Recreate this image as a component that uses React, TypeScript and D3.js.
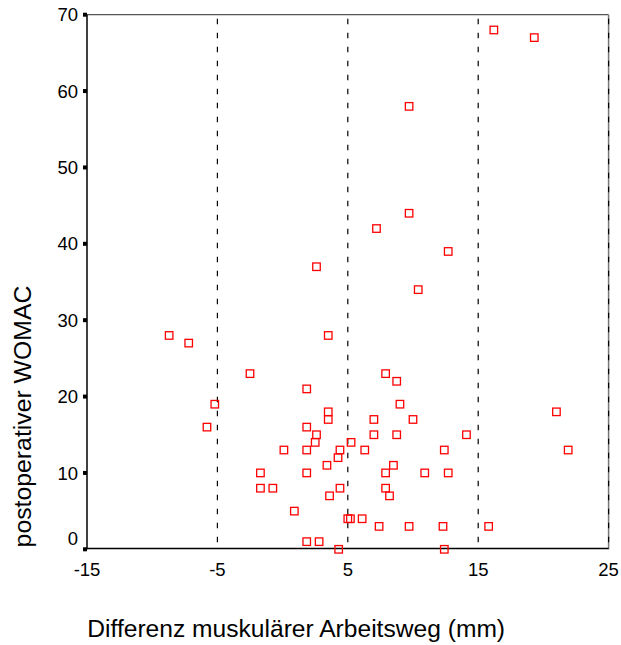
import React from "react";
import * as d3 from "d3";

const xValues = [16.2, 19.3, 9.7, 9.7, 7.2, 12.7, 2.6, 10.4, -8.7, 3.5, -7.2, -2.5, 7.9, 8.75, 1.85, -5.2, 9.0, 3.5, 21.0, 3.5, 7.0, 10.0, -5.8, 1.85, 2.6, 7.0, 8.75, 14.1, 2.5, 5.25, 0.1, 1.85, 4.4, 6.3, 12.4, 21.9, 4.25, 3.4, 8.5, -1.7, 1.85, 7.9, 10.9, 12.7, -1.7, -0.75, 4.4, 7.9, 3.6, 8.2, 0.9, 5.0, 5.2, 6.1, 7.4, 9.7, 12.3, 15.8, 1.85, 2.8, 4.3, 12.4];
const yValues = [68, 67, 58, 44, 42, 39, 37, 34, 28, 28, 27, 23, 23, 22, 21, 19, 19, 18, 18, 17, 17, 17, 16, 16, 15, 15, 15, 15, 14, 14, 13, 13, 13, 13, 13, 13, 12, 11, 11, 10, 10, 10, 10, 10, 8, 8, 8, 8, 7, 7, 5, 4, 4, 4, 3, 3, 3, 3, 1, 1, 0, 0];
const xTicks = [-15, -5, 5, 15, 25];
const yTicks = [0, 10, 20, 30, 40, 50, 60, 70];
const refLines = [-5, 5, 15, 25];
const xTitle = "Differenz muskulärer Arbeitsweg (mm)";
const yTitle = "postoperativer WOMAC";

export default function App() {
  const left = 87, right = 608.6, top = 14.7, bottom = 549.3;
  const x = d3.scaleLinear().domain([-15, 25]).range([left, right]);
  const y = d3.scaleLinear().domain([0, 70]).range([bottom, top]);
  const font = "Arial, 'Liberation Sans', sans-serif";
  const ms = 7.5;
  return (
    <svg width={621} height={645} style={{ position: "absolute", left: 0, top: 0, background: "#fff" }}>
      <rect x={0} y={0} width={621} height={645} fill="#fff" />
      <line x1={left} x2={right} y1={top} y2={top} stroke="#555" strokeWidth={1.2} />
      <line x1={right} x2={right} y1={top} y2={bottom} stroke="#777" strokeWidth={1.5} />
      {refLines.map((v) => (
        <line key={v} x1={x(v)} x2={x(v)} y1={top + 4} y2={bottom} stroke="#000" strokeWidth={1.2} strokeDasharray="5.5 8.5" />
      ))}
      <line x1={left} x2={left} y1={top} y2={bottom} stroke="#000" strokeWidth={1.5} />
      <line x1={left} x2={right} y1={bottom - 0.7} y2={bottom - 0.7} stroke="#000" strokeWidth={1.5} />
      {yTicks.map((t) => (
        <g key={t}>
          <rect x={left - 4} y={y(t) - 2} width={4} height={4} fill="#000" />
          <text x={78} y={t === 0 ? y(t) - 11 : y(t)} dy="0.36em" textAnchor="end" fontFamily={font} fontSize={18.5} fill="#000">{t}</text>
        </g>
      ))}
      {xTicks.map((t) => (
        <text key={t} x={x(t)} y={575.5} textAnchor="middle" fontFamily={font} fontSize={18.5} fill="#000">{t}</text>
      ))}
      {xValues.map((v, i) => (
        <rect key={i} x={x(v) - ms / 2} y={y(yValues[i]) - ms / 2} width={ms} height={ms} fill="none" stroke="#ff0000" strokeWidth={1.3} />
      ))}
      <text x={87.3} y={637} textAnchor="start" fontFamily={font} fontSize={24.6} fill="#000">{xTitle}</text>
      <text transform={`translate(31,416.5) rotate(-90)`} textAnchor="middle" fontFamily={font} fontSize={24.8} fill="#000">{yTitle}</text>
    </svg>
  );
}
